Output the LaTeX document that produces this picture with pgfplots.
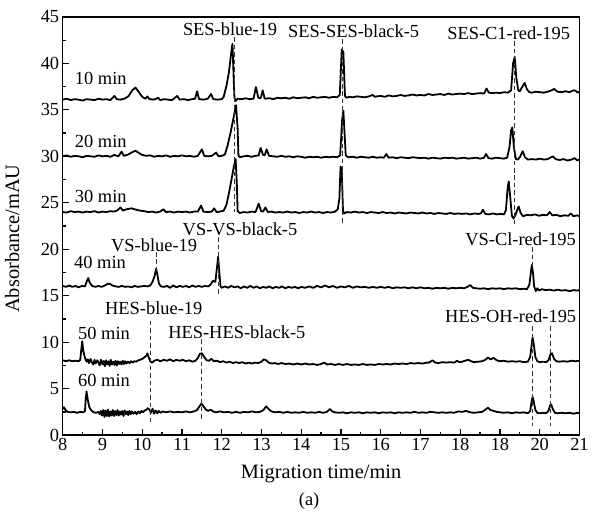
\documentclass[border=0pt]{standalone}
\usepackage{fontspec}
\setmainfont{Liberation Serif}
\usepackage{pgfplots}
\pgfplotsset{compat=1.18}

\begin{document}
\begin{tikzpicture}[font=\fontsize{18.5}{21}\selectfont]
\begin{axis}[
    scale only axis,
    width=519pt, height=420pt,
    xmin=8, xmax=21, ymin=0, ymax=45,
    xtick={8,...,21},
    xticklabels={8,9,10,11,12,13,14,15,16,17,18,18,20,21},
    ytick={0,5,...,45},
    minor x tick num=1, minor y tick num=1,
    tick align=inside, xtick pos=left, ytick pos=left,
    major tick length=6.5pt, minor tick length=3.5pt,
    every tick/.style={black, line width=1.3pt},
    axis line style={line width=1.5pt},
    /pgf/number format/assume math mode=true,
    ticklabel style={font=\fontsize{18.5}{21}\selectfont},
    xlabel={Migration time/min},
    ylabel={Absorbance/mAU},
    label style={font=\fontsize{20.5}{23}\selectfont},
    xlabel style={at={(axis description cs:0.5,-0.092)}, anchor=center},
    ylabel style={at={(axis description cs:-0.098,0.47)}, anchor=center},
    clip=false,
    trace/.style={black, line width=1.8pt, line join=round},
    guide/.style={black!80, line width=0.9pt, dash pattern=on 4.5pt off 3pt},
]
% 10 min
\addplot[trace] coordinates {
(8.00,36.10) (8.10,36.20) (8.20,36.05) (8.30,36.15) (8.40,36.10) (8.50,36.00) (8.60,36.15) (8.70,36.10) (8.80,36.05) (8.90,36.20) (9.00,36.10) (9.10,36.15) (9.20,36.05) (9.30,36.50) (9.36,36.15) (9.45,36.10) (9.55,36.20) (9.65,36.45) (9.75,37.10) (9.83,37.40) (9.90,37.00) (10.00,36.40) (10.08,36.20) (10.13,36.45) (10.18,36.15) (10.30,36.10) (10.40,36.30) (10.45,36.05) (10.55,36.15) (10.65,36.10) (10.75,36.05) (10.88,36.50) (10.94,36.10) (11.05,36.15) (11.15,36.05) (11.25,36.15) (11.33,36.20) (11.38,37.00) (11.43,36.15) (11.55,36.10) (11.65,36.20) (11.73,36.70) (11.79,36.15) (11.90,36.10) (12.00,36.15) (12.05,36.40) (12.12,37.60) (12.18,39.00) (12.24,41.20) (12.27,42.10) (12.30,38.50) (12.32,36.30) (12.35,35.95) (12.40,36.20) (12.50,36.15) (12.60,36.25) (12.70,36.15) (12.80,36.20) (12.86,37.45) (12.92,36.30) (12.98,36.25) (13.03,37.10) (13.08,36.20) (13.20,36.25) (13.30,36.15) (13.40,36.30) (13.50,36.25) (13.60,36.30) (13.70,36.20) (13.80,36.35) (13.90,36.25) (14.00,36.30) (14.10,36.35) (14.20,36.25) (14.30,36.40) (14.40,36.30) (14.50,36.35) (14.60,36.40) (14.70,36.30) (14.80,36.40) (14.90,36.35) (14.97,36.60) (15.02,41.50) (15.06,41.20) (15.10,36.50) (15.14,36.30) (15.20,36.40) (15.30,36.35) (15.40,36.45) (15.50,36.40) (15.60,36.35) (15.70,36.45) (15.80,36.60) (15.85,36.40) (15.90,36.45) (16.00,36.50) (16.10,36.40) (16.20,36.55) (16.30,36.45) (16.40,36.50) (16.50,36.60) (16.60,36.50) (16.70,36.55) (16.80,36.65) (16.90,36.55) (17.00,36.60) (17.10,36.55) (17.20,36.70) (17.30,36.60) (17.40,36.65) (17.50,36.70) (17.60,36.60) (17.70,36.75) (17.80,36.65) (17.90,36.70) (18.00,36.75) (18.10,36.70) (18.20,36.80) (18.30,36.70) (18.40,36.75) (18.50,36.80) (18.60,36.75) (18.66,37.30) (18.72,36.85) (18.80,36.80) (18.90,36.85) (19.00,36.80) (19.10,36.90) (19.20,36.85) (19.28,37.10) (19.33,40.00) (19.37,40.70) (19.41,38.50) (19.46,37.10) (19.50,37.00) (19.55,37.40) (19.62,37.90) (19.68,37.20) (19.74,36.90) (19.80,36.85) (19.90,36.95) (20.00,36.90) (20.10,36.85) (20.20,36.95) (20.30,37.10) (20.36,37.25) (20.45,36.95) (20.55,36.90) (20.65,37.00) (20.75,36.90) (20.85,37.10) (20.90,37.05) (20.96,36.85) (21.00,36.95)
};
% 20 min
\addplot[trace] coordinates {
(8.00,30.00) (8.10,30.10) (8.20,29.95) (8.30,30.05) (8.40,30.00) (8.50,29.90) (8.60,30.05) (8.70,30.00) (8.80,29.95) (8.90,30.10) (9.00,30.00) (9.10,30.05) (9.20,29.95) (9.30,30.15) (9.40,30.00) (9.48,30.50) (9.54,30.05) (9.65,30.20) (9.75,30.45) (9.83,30.60) (9.92,30.35) (10.00,30.15) (10.10,30.05) (10.20,30.10) (10.30,29.95) (10.40,30.05) (10.50,30.00) (10.60,30.10) (10.70,29.95) (10.80,30.05) (10.90,30.00) (11.00,30.10) (11.10,30.00) (11.20,30.05) (11.30,29.95) (11.40,30.05) (11.50,30.75) (11.56,30.05) (11.65,30.00) (11.75,30.05) (11.86,30.40) (11.92,30.00) (12.00,30.05) (12.08,30.20) (12.15,31.20) (12.22,32.50) (12.30,34.20) (12.36,35.50) (12.40,33.00) (12.42,30.10) (12.45,29.90) (12.55,30.00) (12.65,30.05) (12.75,29.95) (12.85,30.05) (12.93,30.10) (12.98,30.90) (13.04,30.15) (13.08,30.10) (13.13,30.75) (13.19,30.05) (13.30,30.00) (13.40,29.95) (13.50,30.05) (13.60,29.95) (13.70,30.00) (13.80,29.90) (13.90,30.00) (14.00,29.95) (14.10,29.85) (14.20,29.95) (14.30,29.90) (14.40,29.95) (14.50,29.85) (14.60,29.95) (14.70,29.90) (14.80,29.95) (14.90,29.90) (14.98,30.10) (15.03,34.00) (15.06,34.90) (15.09,32.50) (15.12,30.10) (15.18,29.90) (15.30,29.95) (15.40,29.85) (15.50,29.95) (15.60,29.90) (15.70,29.85) (15.80,29.95) (15.90,29.85) (16.00,29.90) (16.08,29.85) (16.14,30.25) (16.20,29.85) (16.30,29.90) (16.40,29.80) (16.50,29.90) (16.60,29.85) (16.70,29.80) (16.80,29.90) (16.90,29.85) (17.00,29.80) (17.10,29.85) (17.20,29.75) (17.30,29.85) (17.40,29.80) (17.50,29.75) (17.60,29.85) (17.70,29.80) (17.80,29.85) (17.90,29.75) (18.00,29.80) (18.10,29.85) (18.20,29.75) (18.30,29.80) (18.40,29.85) (18.50,29.75) (18.60,29.85) (18.65,30.25) (18.71,29.80) (18.80,29.75) (18.90,29.85) (19.00,29.80) (19.10,29.75) (19.18,29.85) (19.24,31.00) (19.28,32.80) (19.31,33.10) (19.35,31.00) (19.40,29.70) (19.45,29.65) (19.50,29.90) (19.57,30.55) (19.63,29.90) (19.70,29.65) (19.80,29.70) (19.90,29.65) (20.00,29.75) (20.10,29.65) (20.20,29.70) (20.33,30.00) (20.40,29.70) (20.50,29.60) (20.60,29.70) (20.70,29.55) (20.80,29.65) (20.88,29.80) (20.94,29.55) (21.00,29.65)
};
% 30 min
\addplot[trace] coordinates {
(8.00,24.00) (8.10,23.95) (8.20,24.10) (8.30,24.00) (8.40,24.05) (8.50,23.95) (8.60,24.05) (8.70,24.00) (8.80,24.10) (8.90,23.95) (9.00,24.05) (9.10,24.00) (9.20,24.10) (9.30,24.05) (9.38,24.20) (9.45,24.50) (9.52,24.15) (9.60,24.30) (9.73,24.40) (9.85,24.25) (9.95,24.15) (10.05,24.10) (10.15,24.00) (10.25,24.05) (10.35,23.95) (10.45,24.05) (10.53,24.30) (10.60,24.00) (10.70,24.05) (10.80,23.95) (10.90,24.05) (11.00,24.00) (11.10,24.05) (11.20,23.95) (11.30,24.05) (11.40,24.05) (11.48,24.70) (11.54,24.05) (11.65,24.00) (11.75,24.05) (11.81,24.40) (11.87,24.00) (11.95,24.05) (12.05,24.15) (12.12,24.80) (12.18,26.00) (12.25,27.60) (12.31,29.00) (12.35,29.70) (12.38,27.00) (12.40,24.10) (12.45,23.90) (12.55,24.00) (12.65,23.95) (12.75,24.05) (12.85,24.00) (12.93,24.90) (12.99,24.10) (13.04,24.05) (13.10,24.50) (13.16,24.00) (13.25,24.05) (13.35,23.95) (13.45,24.00) (13.55,23.95) (13.65,24.05) (13.75,23.95) (13.85,24.00) (13.95,23.90) (14.05,24.00) (14.15,23.95) (14.25,24.05) (14.35,23.95) (14.45,24.00) (14.55,23.90) (14.65,24.00) (14.75,23.95) (14.85,24.05) (14.92,24.30) (14.96,25.50) (14.99,28.90) (15.02,28.50) (15.05,24.20) (15.08,23.85) (15.15,24.00) (15.25,23.95) (15.35,24.05) (15.45,23.95) (15.55,24.00) (15.65,23.90) (15.75,24.00) (15.85,23.95) (15.95,23.90) (16.05,24.00) (16.15,23.90) (16.25,23.95) (16.35,23.85) (16.45,23.95) (16.55,23.90) (16.65,23.85) (16.75,23.95) (16.85,23.90) (16.95,23.85) (17.05,23.95) (17.15,23.85) (17.25,23.90) (17.35,23.80) (17.45,23.90) (17.55,23.85) (17.65,23.80) (17.75,23.90) (17.85,23.80) (17.95,23.85) (18.05,23.80) (18.15,23.85) (18.25,23.75) (18.35,23.85) (18.45,23.80) (18.52,23.85) (18.57,24.25) (18.63,23.80) (18.72,23.75) (18.82,23.85) (18.92,23.75) (19.02,23.80) (19.10,23.75) (19.15,24.20) (19.19,26.50) (19.22,27.30) (19.26,25.50) (19.30,23.60) (19.34,23.30) (19.39,23.70) (19.44,24.30) (19.47,24.60) (19.52,23.90) (19.58,23.55) (19.68,23.70) (19.78,23.65) (19.88,23.75) (19.98,23.60) (20.08,23.70) (20.18,23.65) (20.25,24.00) (20.32,23.65) (20.42,23.70) (20.52,23.55) (20.62,23.65) (20.72,23.60) (20.78,23.85) (20.85,23.55) (20.95,23.65) (21.00,23.55)
};
% 40 min
\addplot[trace] coordinates {
(8.00,16.05) (8.08,15.95) (8.16,16.10) (8.24,15.95) (8.32,16.05) (8.40,15.90) (8.48,16.05) (8.56,16.00) (8.60,16.50) (8.64,16.90) (8.68,16.40) (8.74,16.05) (8.82,15.95) (8.90,16.05) (8.98,15.95) (9.06,16.10) (9.12,16.25) (9.18,16.30) (9.25,16.10) (9.33,16.00) (9.41,15.95) (9.49,16.05) (9.57,15.95) (9.65,16.00) (9.73,15.90) (9.81,16.05) (9.89,15.95) (9.97,16.00) (10.05,16.05) (10.13,16.00) (10.20,16.10) (10.26,16.50) (10.31,17.10) (10.35,17.90) (10.38,17.30) (10.42,16.30) (10.47,16.00) (10.55,15.95) (10.63,16.05) (10.70,15.85) (10.78,16.10) (10.86,15.90) (10.94,16.05) (11.02,15.95) (11.10,16.05) (11.18,15.90) (11.26,16.10) (11.34,15.95) (11.42,16.05) (11.50,15.95) (11.58,16.05) (11.66,16.00) (11.72,16.20) (11.78,16.60) (11.84,16.50) (11.88,18.00) (11.91,19.20) (11.94,17.50) (11.97,16.00) (12.00,15.85) (12.08,16.00) (12.16,15.85) (12.24,16.05) (12.32,15.90) (12.40,16.00) (12.48,15.80) (12.56,16.00) (12.64,15.85) (12.72,16.05) (12.80,15.85) (12.88,16.00) (12.96,15.80) (13.04,15.95) (13.12,15.85) (13.20,16.00) (13.28,15.80) (13.36,15.95) (13.44,15.85) (13.52,16.00) (13.60,15.80) (13.68,15.95) (13.76,15.85) (13.84,15.95) (13.92,15.80) (14.00,15.95) (14.10,15.85) (14.20,16.00) (14.30,15.85) (14.40,16.05) (14.50,15.90) (14.60,16.10) (14.70,15.90) (14.80,16.05) (14.90,15.85) (15.00,16.00) (15.10,15.90) (15.20,16.05) (15.30,15.85) (15.40,16.00) (15.50,15.90) (15.60,15.95) (15.70,15.85) (15.80,15.95) (15.90,15.85) (16.00,15.95) (16.10,15.85) (16.20,15.95) (16.30,15.80) (16.40,15.90) (16.50,15.85) (16.60,15.90) (16.70,15.80) (16.80,15.90) (16.90,15.80) (17.00,15.90) (17.10,15.80) (17.20,15.85) (17.30,15.75) (17.40,15.85) (17.50,15.80) (17.60,15.85) (17.70,15.75) (17.80,15.85) (17.90,15.80) (18.00,15.85) (18.10,15.80) (18.18,15.95) (18.25,16.15) (18.32,15.85) (18.40,15.80) (18.50,15.75) (18.60,15.80) (18.70,15.70) (18.80,15.80) (18.90,15.75) (19.00,15.80) (19.10,15.70) (19.20,15.80) (19.30,15.75) (19.40,15.80) (19.50,15.70) (19.60,15.75) (19.68,15.70) (19.74,16.20) (19.78,17.60) (19.80,18.30) (19.83,17.50) (19.86,16.00) (19.90,15.50) (19.94,15.80) (19.98,15.55) (20.05,15.70) (20.15,15.60) (20.25,15.65) (20.35,15.55) (20.45,15.65) (20.55,15.55) (20.65,15.60) (20.75,15.50) (20.85,15.60) (20.95,15.55) (21.00,15.60)
};
% 50 min
\addplot[trace] coordinates {
(8.00,8.05) (8.08,7.95) (8.16,8.05) (8.24,7.95) (8.32,8.00) (8.40,7.95) (8.44,8.10) (8.47,9.30) (8.49,10.10) (8.52,9.00) (8.56,8.30) (8.60,7.90) (8.63,8.15) (8.66,7.75) (8.70,8.20) (8.73,7.85) (8.77,7.60) (8.80,8.10) (8.83,7.70) (8.87,8.05) (8.90,7.80) (8.93,7.50) (8.96,8.10) (9.00,7.60) (9.03,8.00) (9.06,7.40) (9.09,8.05) (9.12,7.60) (9.15,7.95) (9.18,7.45) (9.21,8.10) (9.24,7.60) (9.27,7.90) (9.30,7.55) (9.33,8.00) (9.36,7.50) (9.39,7.95) (9.42,7.65) (9.45,7.90) (9.48,7.60) (9.51,8.00) (9.54,7.65) (9.57,7.95) (9.60,7.70) (9.64,7.90) (9.68,7.75) (9.72,7.95) (9.76,7.80) (9.80,7.95) (9.85,7.90) (9.90,8.05) (9.95,8.10) (10.00,8.20) (10.05,8.35) (10.10,8.55) (10.13,8.80) (10.16,8.40) (10.20,7.95) (10.25,7.80) (10.30,8.00) (10.38,8.10) (10.46,7.95) (10.54,8.10) (10.62,8.00) (10.70,8.15) (10.78,7.95) (10.86,8.10) (10.94,8.00) (11.02,8.10) (11.10,7.95) (11.18,8.05) (11.26,7.90) (11.34,8.00) (11.40,8.30) (11.45,8.75) (11.50,8.80) (11.56,8.40) (11.62,8.05) (11.68,8.00) (11.74,8.20) (11.80,7.95) (11.88,8.00) (11.96,7.85) (12.04,7.95) (12.12,7.80) (12.20,7.90) (12.28,7.75) (12.36,7.85) (12.44,7.75) (12.52,7.85) (12.60,7.70) (12.68,7.80) (12.76,7.70) (12.84,7.80) (12.92,7.75) (13.00,7.90) (13.06,8.15) (13.12,8.05) (13.18,7.80) (13.26,7.70) (13.34,7.75) (13.42,7.65) (13.50,7.75) (13.60,7.65) (13.70,7.70) (13.80,7.60) (13.90,7.70) (14.00,7.60) (14.10,7.70) (14.20,7.60) (14.30,7.65) (14.40,7.55) (14.50,7.65) (14.58,7.80) (14.65,7.60) (14.75,7.65) (14.85,7.55) (14.95,7.65) (15.05,7.55) (15.15,7.65) (15.25,7.55) (15.35,7.60) (15.45,7.55) (15.55,7.65) (15.65,7.55) (15.75,7.60) (15.85,7.55) (15.95,7.65) (16.05,7.60) (16.15,7.65) (16.25,7.60) (16.35,7.70) (16.45,7.65) (16.55,7.70) (16.65,7.65) (16.75,7.75) (16.85,7.70) (16.95,7.75) (17.05,7.70) (17.15,7.80) (17.22,7.80) (17.30,8.05) (17.37,7.80) (17.45,7.75) (17.55,7.85) (17.65,7.80) (17.75,7.85) (17.85,7.80) (17.92,8.00) (17.98,7.85) (18.05,7.90) (18.12,8.00) (18.20,8.10) (18.27,7.95) (18.35,7.85) (18.45,7.90) (18.55,7.95) (18.63,8.10) (18.70,8.35) (18.76,8.15) (18.84,8.30) (18.92,8.05) (19.00,7.95) (19.10,8.00) (19.20,7.90) (19.30,7.95) (19.40,7.90) (19.50,7.95) (19.60,7.85) (19.70,7.90) (19.76,8.40) (19.80,9.80) (19.82,10.50) (19.85,9.80) (19.89,8.40) (19.94,7.95) (20.00,7.85) (20.08,7.90) (20.16,7.85) (20.22,8.05) (20.27,8.70) (20.31,8.80) (20.36,8.20) (20.42,7.95) (20.50,7.90) (20.60,7.95) (20.70,7.90) (20.80,8.00) (20.90,7.95) (21.00,8.00)
};
% 60 min
\addplot[trace] coordinates {
(8.00,2.80) (8.03,3.00) (8.07,2.70) (8.12,2.50) (8.20,2.45) (8.28,2.50) (8.36,2.40) (8.44,2.50) (8.52,2.45) (8.56,2.60) (8.58,4.00) (8.60,4.70) (8.63,3.80) (8.67,3.00) (8.72,2.65) (8.78,2.45) (8.84,2.40) (8.90,2.50) (8.93,2.25) (8.96,2.60) (8.99,2.10) (9.02,2.70) (9.05,1.95) (9.08,2.65) (9.11,2.05) (9.14,2.75) (9.17,2.00) (9.20,2.55) (9.23,2.10) (9.26,2.70) (9.29,2.05) (9.32,2.60) (9.35,2.15) (9.38,2.70) (9.41,2.10) (9.44,2.55) (9.47,2.20) (9.50,2.60) (9.53,2.05) (9.56,2.65) (9.59,2.25) (9.62,2.55) (9.65,2.15) (9.68,2.60) (9.71,2.25) (9.74,2.55) (9.78,2.30) (9.82,2.50) (9.86,2.25) (9.90,2.55) (9.94,2.35) (9.98,2.60) (10.02,2.45) (10.06,2.65) (10.10,2.70) (10.14,2.90) (10.18,2.75) (10.22,2.40) (10.26,2.85) (10.30,2.30) (10.34,2.65) (10.38,2.35) (10.42,2.60) (10.46,2.40) (10.52,2.55) (10.60,2.45) (10.70,2.55) (10.80,2.45) (10.90,2.50) (11.00,2.45) (11.10,2.55) (11.20,2.45) (11.30,2.55) (11.38,2.70) (11.44,3.10) (11.49,3.40) (11.54,3.10) (11.60,2.75) (11.66,2.60) (11.72,2.75) (11.78,2.55) (11.86,2.45) (11.96,2.55) (12.06,2.45) (12.16,2.50) (12.26,2.40) (12.36,2.50) (12.46,2.40) (12.56,2.50) (12.66,2.45) (12.76,2.55) (12.86,2.45) (12.96,2.50) (13.05,2.70) (13.12,3.10) (13.18,2.80) (13.25,2.55) (13.35,2.45) (13.45,2.50) (13.55,2.40) (13.65,2.50) (13.75,2.40) (13.85,2.45) (13.95,2.40) (14.05,2.50) (14.15,2.40) (14.25,2.45) (14.35,2.40) (14.45,2.50) (14.55,2.40) (14.65,2.50) (14.72,2.80) (14.78,2.55) (14.85,2.45) (14.95,2.40) (15.05,2.45) (15.15,2.35) (15.25,2.45) (15.35,2.40) (15.45,2.45) (15.55,2.35) (15.65,2.45) (15.75,2.40) (15.85,2.45) (15.95,2.35) (16.05,2.45) (16.15,2.40) (16.25,2.45) (16.35,2.35) (16.45,2.45) (16.55,2.40) (16.65,2.45) (16.75,2.40) (16.85,2.50) (16.95,2.40) (17.05,2.45) (17.15,2.40) (17.25,2.50) (17.35,2.45) (17.45,2.40) (17.55,2.45) (17.65,2.40) (17.75,2.45) (17.85,2.40) (17.95,2.55) (18.05,2.50) (18.15,2.60) (18.25,2.45) (18.35,2.40) (18.45,2.45) (18.55,2.50) (18.62,2.70) (18.70,2.95) (18.76,2.70) (18.84,2.60) (18.92,2.50) (19.00,2.45) (19.10,2.40) (19.20,2.45) (19.30,2.35) (19.40,2.45) (19.50,2.40) (19.60,2.45) (19.70,2.35) (19.76,2.60) (19.80,3.70) (19.82,4.10) (19.85,3.60) (19.89,2.70) (19.94,2.40) (20.00,2.35) (20.08,2.40) (20.16,2.35) (20.22,2.60) (20.26,3.20) (20.29,3.30) (20.33,2.80) (20.38,2.40) (20.45,2.35) (20.55,2.40) (20.65,2.35) (20.75,2.40) (20.85,2.30) (20.95,2.40) (21.00,2.35)
};
% guide lines
\addplot[guide] coordinates {(12.31,42.8) (12.31,24.0)};
\addplot[guide] coordinates {(15.04,42.6) (15.04,22.8)};
\addplot[guide] coordinates {(19.37,42.4) (19.37,22.7)};
\addplot[guide] coordinates {(11.93,21.3) (11.93,15.2)};
\addplot[guide] coordinates {(10.37,19.7) (10.37,17.7)};
\addplot[guide] coordinates {(19.82,20.2) (19.82,18.1)};
\addplot[guide] coordinates {(10.20,12.3) (10.20,1.3)};
\addplot[guide] coordinates {(11.49,10.3) (11.49,1.5)};
\addplot[guide] coordinates {(19.82,11.7) (19.82,1.0)};
\addplot[guide] coordinates {(20.27,11.7) (20.27,1.0)};

\node[anchor=west] at (axis cs:8.22,38.4) {10 min};
\node[anchor=west] at (axis cs:8.22,31.6) {20 min};
\node[anchor=west] at (axis cs:8.22,25.7) {30 min};
\node[anchor=west] at (axis cs:8.20,18.6) {40 min};
\node[anchor=west] at (axis cs:8.30,10.9) {50 min};
\node[anchor=west] at (axis cs:8.30,5.9) {60 min};

\node at (axis cs:12.21,43.7) {SES-blue-19};
\node at (axis cs:15.32,43.5) {SES-SES-black-5};
\node at (axis cs:19.22,43.3) {SES-C1-red-195};
\node at (axis cs:12.46,22.2) {VS-VS-black-5};
\node at (axis cs:10.30,20.4) {VS-blue-19};
\node at (axis cs:19.52,21.1) {VS-Cl-red-195};
\node at (axis cs:10.29,13.7) {HES-blue-19};
\node at (axis cs:12.38,11.1) {HES-HES-black-5};
\node at (axis cs:19.27,12.75) {HES-OH-red-195};
\end{axis}
\node at ([xshift=-12pt,yshift=-66pt]current axis.south) {(a)};
\path ([xshift=-63pt,yshift=-74pt]current axis.south west) rectangle ([xshift=10pt,yshift=17pt]current axis.north east);
\end{tikzpicture}
\end{document}
